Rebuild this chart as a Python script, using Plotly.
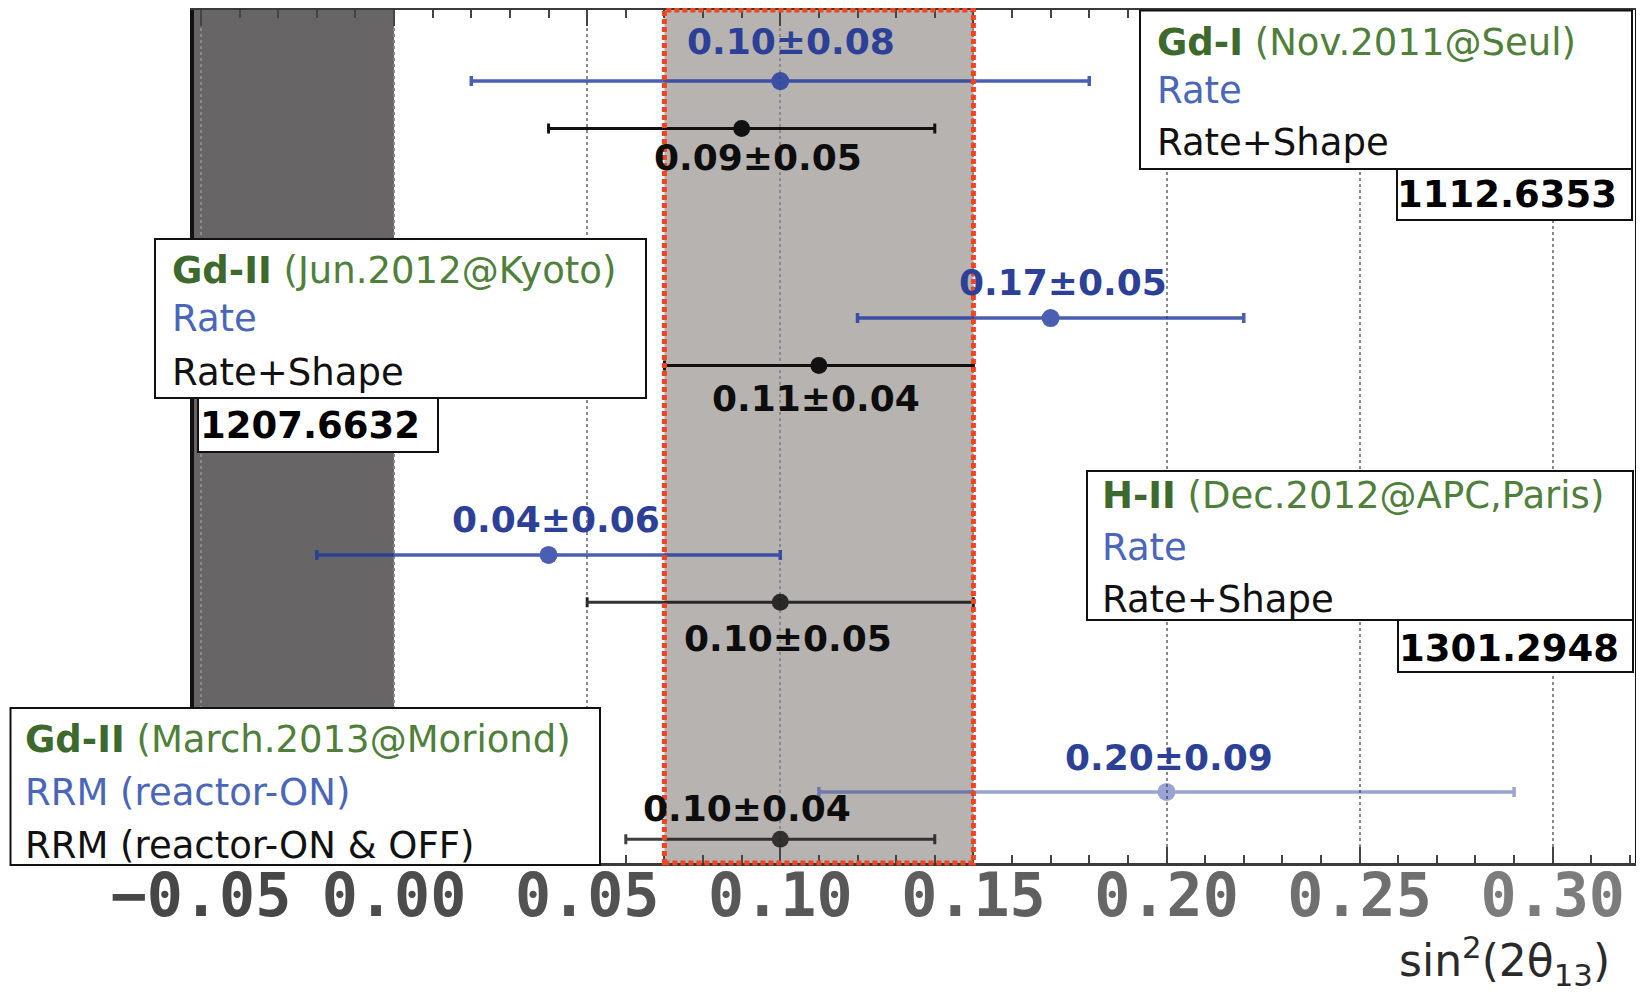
import plotly.graph_objects as go

# ---------------- data ----------------
campaign_tags = ["Gd-I", "Gd-II", "H-II", "Gd-II"]
campaign_events = ["(Nov.2011@Seul)", "(Jun.2012@Kyoto)", "(Dec.2012@APC,Paris)", "(March.2013@Moriond)"]
blue_names = ["Rate", "Rate", "Rate", "RRM (reactor-ON)"]
black_names = ["Rate+Shape", "Rate+Shape", "Rate+Shape", "RRM (reactor-ON & OFF)"]

blue_values = [0.10, 0.17, 0.04, 0.20]
blue_errors = [0.08, 0.05, 0.06, 0.09]
black_values = [0.09, 0.11, 0.10, 0.10]
black_errors = [0.05, 0.04, 0.05, 0.04]

run_numbers = ["1112.6353", "1207.6632", "1301.2948"]

tick_values = [-0.05, 0.00, 0.05, 0.10, 0.15, 0.20, 0.25, 0.30]
tick_labels = ["\u22120.05", "0.00", "0.05", "0.10", "0.15", "0.20", "0.25", "0.30"]

physical_band = [-0.0518, 0.0]       # sin^2 < 0 region
reference_band = [0.07, 0.15]        # shaded reference band

# ---------------- layout geometry (pixels, reference-image coordinates) ----------------
PAGE_OFFSET = 8                      # default body margin of the html page
FIG_W, FIG_H = 1644 - PAGE_OFFSET, 994 - PAGE_OFFSET
PLOT_LEFT, PLOT_RIGHT, PLOT_TOP, PLOT_BOTTOM = 194, 1635, 10, 863
L = PLOT_LEFT - PAGE_OFFSET
T = PLOT_TOP - PAGE_OFFSET
R = 1644 - PLOT_RIGHT
B = 994 - PLOT_BOTTOM
PW = PLOT_RIGHT - PLOT_LEFT
PH = PLOT_BOTTOM - PLOT_TOP

def pxx(px):
    return (px - PLOT_LEFT) / PW

def pxy(py):
    return (PLOT_BOTTOM - py) / PH

X_RANGE = [-0.0518, 0.3213]
Y_RANGE = [0, 18]
blue_rows = [16.5, 11.5, 6.5, 1.5]
black_rows = [15.5, 10.5, 5.5, 0.5]

blue_opacity = [0.8, 0.8, 0.8, 0.45]
black_opacity = [1.0, 1.0, 0.85, 0.8]

blue_label_offset = [(0.0028, 0.83), (0.0032, 0.76), (0.0019, 0.74), (0.0007, 0.72)]
black_label_offset = [(0.0043, -0.62), (-0.0007, -0.69), (0.002, -0.77), (-0.0086, 0.66)]

BLUE = "rgb(30,55,160)"
BLUE_TEXT = "#2b4096"
BLACK = "#111111"
GREEN_B = "#3d6a2c"
GREEN_R = "#4f7f3a"
LEG_BLUE = "#4a66b8"

fig = go.Figure()

for i in range(4):
    fig.add_trace(go.Scatter(
        x=[blue_values[i]], y=[blue_rows[i]], mode="markers",
        marker=dict(color=BLUE, size=18),
        error_x=dict(type="data", array=[blue_errors[i]], color=BLUE, thickness=3.5, width=5),
        opacity=blue_opacity[i], showlegend=False, hoverinfo="skip"))
    fig.add_trace(go.Scatter(
        x=[black_values[i]], y=[black_rows[i]], mode="markers",
        marker=dict(color=BLACK, size=17),
        error_x=dict(type="data", array=[black_errors[i]], color=BLACK, thickness=3, width=5),
        opacity=black_opacity[i], showlegend=False, hoverinfo="skip"))

shapes = []
# bands
shapes.append(dict(type="rect", xref="x", yref="paper", x0=physical_band[0], x1=physical_band[1],
                   y0=0, y1=1, fillcolor="#686566", line=dict(width=0), layer="between"))
shapes.append(dict(type="rect", xref="x", yref="paper", x0=reference_band[0], x1=reference_band[1],
                   y0=0, y1=1, fillcolor="#b7b3b1", line=dict(width=0), layer="below"))
shapes.append(dict(type="rect", xref="x", yref="paper", x0=reference_band[0], x1=reference_band[1],
                   y0=0, y1=1, fillcolor="rgba(0,0,0,0)",
                   line=dict(color="#f04422", width=5, dash="5px,3px"), layer="above"))

# legend boxes (pixel geometry)
boxes = [(1140, 10.5, 1632, 169), (155, 239, 646, 398), (1087, 471, 1633, 620), (10.5, 708, 600, 865)]
num_boxes = [(1397, 169, 1632, 220), (198, 398, 438, 452), (1398, 620, 1633, 672)]
for (x0, y0, x1, y1) in boxes + num_boxes:
    shapes.append(dict(type="rect", xref="paper", yref="paper",
                       x0=pxx(x0), x1=pxx(x1), y0=pxy(y1), y1=pxy(y0),
                       fillcolor="white", line=dict(color="#111", width=2), layer="above"))

annotations = []
text_left = [1155, 170, 1100, 23]
line_centers = [(42.5, 90.3, 142.3), (270, 318.8, 372.5), (495, 547.7, 599), (739, 792.5, 845)]
LEG_FONT = dict(family="DejaVu Sans", size=37)
for i in range(4):
    c1, c2, c3 = line_centers[i]
    head = (f"<span style='color:{GREEN_B}'><b>{campaign_tags[i]}</b></span>"
            f"<span style='color:{GREEN_R}'> {campaign_events[i]}</span>")
    for txt, cy, col in [(head, c1, GREEN_R), (blue_names[i], c2, LEG_BLUE), (black_names[i], c3, BLACK)]:
        annotations.append(dict(xref="paper", yref="paper", x=pxx(text_left[i]), y=pxy(cy),
                                xanchor="left", yanchor="middle", text=txt, showarrow=False,
                                font=dict(color=col, **LEG_FONT)))

num_centers = [(1507, 195), (310, 425), (1509, 648)]
for i, (cx, cy) in enumerate(num_centers):
    annotations.append(dict(xref="paper", yref="paper", x=pxx(cx), y=pxy(cy),
                            xanchor="center", yanchor="middle", text=f"<b>{run_numbers[i]}</b>",
                            showarrow=False, font=dict(family="DejaVu Sans", size=37, color="#000")))

# value labels
for i in range(4):
    dx, dy = blue_label_offset[i]
    annotations.append(dict(x=blue_values[i] + dx, y=blue_rows[i] + dy, xref="x", yref="y",
                            text=f"<b>{blue_values[i]:.2f}±{blue_errors[i]:.2f}</b>", showarrow=False,
                            xanchor="center", yanchor="middle",
                            font=dict(family="DejaVu Sans", size=36, color=BLUE_TEXT)))
    dx, dy = black_label_offset[i]
    annotations.append(dict(x=black_values[i] + dx, y=black_rows[i] + dy, xref="x", yref="y",
                            text=f"<b>{black_values[i]:.2f}±{black_errors[i]:.2f}</b>", showarrow=False,
                            xanchor="center", yanchor="middle",
                            font=dict(family="DejaVu Sans", size=36, color="#0d0d0d")))

# axis title
annotations.append(dict(xref="paper", yref="paper", x=pxx(1612), y=pxy(961), xanchor="right",
                        yanchor="middle", showarrow=False,
                        text="sin<sup>2</sup>(2θ<sub>13</sub>)",
                        font=dict(family="DejaVu Sans", size=44, color="#2a2a2a")))

tick_colors = ["#474747", "#4c4c4c", "#525252", "#585858", "#5f5f5f", "#676767", "#707070", "#7c7c7c"]
tick_text = [f"<span style='color:{c}'>{t}</span>" for t, c in zip(tick_labels, tick_colors)]

fig.update_layout(
    width=FIG_W, height=FIG_H,
    margin=dict(l=L, r=R, t=T, b=B, autoexpand=False),
    paper_bgcolor="white", plot_bgcolor="white",
    shapes=shapes, annotations=annotations, showlegend=False,
    xaxis=dict(range=X_RANGE, tickvals=tick_values, ticktext=tick_text, automargin=False,
               tickfont=dict(family="DejaVu Sans Mono", size=60, color="#555", weight="bold"),
               ticklabelstandoff=-22,
               ticks="inside", ticklen=16, tickwidth=2, tickcolor="#444",
               minor=dict(dtick=0.01, tick0=0, ticks="inside", ticklen=8, tickwidth=1.5, tickcolor="#444"),
               showgrid=True, gridcolor="#8a8a8a", gridwidth=1.5, griddash="dot",
               showline=True, linecolor="#3a3a3a", linewidth=3, mirror="ticks", zeroline=False),
    yaxis=dict(range=Y_RANGE, showticklabels=False, ticks="", showgrid=False, zeroline=False,
               automargin=False,
               showline=True, linecolor="#111", linewidth=4, mirror=True),
)

fig.write_html("out.html")
